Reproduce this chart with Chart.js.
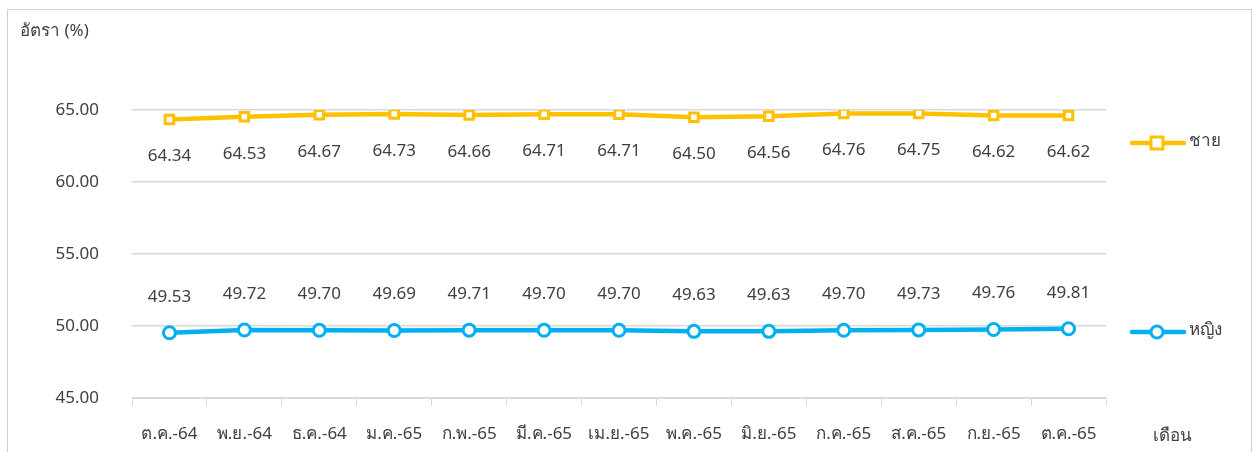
<!DOCTYPE html>
<html>
<head>
<meta charset="utf-8">
<script src="https://cdn.jsdelivr.net/npm/chart.js@4"></script>
<style>
  html, body { margin: 0; padding: 0; background: #fff; }
  #wrap { position: relative; width: 1256px; height: 452px; overflow: hidden; }
  #frame { position: absolute; left: 7px; top: 9px; width: 1245px; height: 460px; border: 1px solid #d0d0d0; box-sizing: border-box; }
  canvas { position: absolute; left: 0; top: 0; }
</style>
</head>
<body>
<div id="wrap">
  <div id="frame"></div>
  <canvas id="rateChart" width="1256" height="452"></canvas>
</div>
<script>
// ---- data ----
const months = ["ต.ค.-64", "พ.ย.-64", "ธ.ค.-64", "ม.ค.-65", "ก.พ.-65", "มี.ค.-65", "เม.ย.-65",
  "พ.ค.-65", "มิ.ย.-65", "ก.ค.-65", "ส.ค.-65", "ก.ย.-65", "ต.ค.-65"];
const male = [64.34, 64.53, 64.67, 64.73, 64.66, 64.71, 64.71, 64.50, 64.56, 64.76, 64.75, 64.62, 64.62];
const female = [49.53, 49.72, 49.70, 49.69, 49.71, 49.70, 49.70, 49.63, 49.63, 49.70, 49.73, 49.76, 49.81];
const yTicks = [45, 50, 55, 60, 65];

const FONT = "'Noto Sans', 'DejaVu Sans', sans-serif";
const TEXT = "#404040";
const GOLD = "#FFC000";
const BLUE = "#00B0F0";

// value labels + titles + legend
const extrasPlugin = {
  id: "extras",
  afterDatasetsDraw(chart) {
    const ctx = chart.ctx;
    ctx.save();
    ctx.font = "17px " + FONT;
    ctx.fillStyle = TEXT;
    ctx.textAlign = "center";
    ctx.textBaseline = "middle";

    chart.getDatasetMeta(0).data.forEach((pt, i) => {
      ctx.fillText(male[i].toFixed(2), pt.x, pt.y + 37);
    });
    chart.getDatasetMeta(1).data.forEach((pt, i) => {
      ctx.fillText(female[i].toFixed(2), pt.x, pt.y - 36);
    });

    // axis titles
    ctx.textAlign = "left";
    ctx.fillText("อัตรา (%)", 20, 31);
    ctx.textAlign = "center";
    ctx.fillText("เดือน", 1172, 436);

    // legend
    const drawKey = (y, color, style, label) => {
      ctx.strokeStyle = color;
      ctx.lineWidth = 4.5;
      ctx.lineCap = "round";
      ctx.beginPath();
      ctx.moveTo(1132, y);
      ctx.lineTo(1184, y);
      ctx.stroke();
      ctx.fillStyle = "#fff";
      ctx.lineWidth = 3;
      if (style === "rect") {
        ctx.fillRect(1151, y - 6, 12, 12);
        ctx.strokeRect(1151, y - 6, 12, 12);
      } else {
        ctx.beginPath();
        ctx.arc(1157, y, 6, 0, Math.PI * 2);
        ctx.fill();
        ctx.stroke();
      }
      ctx.fillStyle = TEXT;
      ctx.textAlign = "left";
      ctx.fillText(label, 1189, y - 2);
    };
    drawKey(143, GOLD, "rect", "ชาย");
    drawKey(332, BLUE, "circle", "หญิง");
    ctx.restore();
  }
};

new Chart(document.getElementById("rateChart"), {
  type: "line",
  data: {
    labels: months,
    datasets: [
      {
        label: "ชาย",
        data: male,
        borderColor: GOLD,
        borderWidth: 4.5,
        pointStyle: "rect",
        pointRadius: 6,
        pointBorderWidth: 3,
        pointBackgroundColor: "#fff",
        pointBorderColor: GOLD,
        tension: 0
      },
      {
        label: "หญิง",
        data: female,
        borderColor: BLUE,
        borderWidth: 4.5,
        pointStyle: "circle",
        pointRadius: 6,
        pointBorderWidth: 3,
        pointBackgroundColor: "#fff",
        pointBorderColor: BLUE,
        tension: 0
      }
    ]
  },
  options: {
    responsive: false,
    animation: false,
    layout: { padding: { left: 0, right: 150, top: 110, bottom: 0 } },
    plugins: {
      legend: { display: false },
      tooltip: { enabled: false }
    },
    scales: {
      x: {
        offset: true,
        afterFit(scale) { scale.height = 54; },
        grid: {
          offset: true,
          drawOnChartArea: false,
          drawTicks: true,
          tickLength: 8,
          color: "#d9d9d9"
        },
        border: { display: true, color: "#d9d9d9", width: 1 },
        ticks: {
          color: TEXT,
          font: { family: FONT, size: 17 },
          padding: 18,
          maxRotation: 0,
          autoSkip: false
        }
      },
      y: {
        min: 45,
        max: 65,
        afterFit(scale) { scale.width = 132; },
        afterBuildTicks(scale) { scale.ticks = yTicks.map(v => ({ value: v })); },
        grid: { color: "#d9d9d9", drawTicks: false, lineWidth: 1.5 },
        border: { display: false },
        ticks: {
          color: TEXT,
          font: { family: FONT, size: 17 },
          padding: 33,
          callback: v => Number(v).toFixed(2)
        }
      }
    }
  },
  plugins: [extrasPlugin]
});
</script>
</body>
</html>
